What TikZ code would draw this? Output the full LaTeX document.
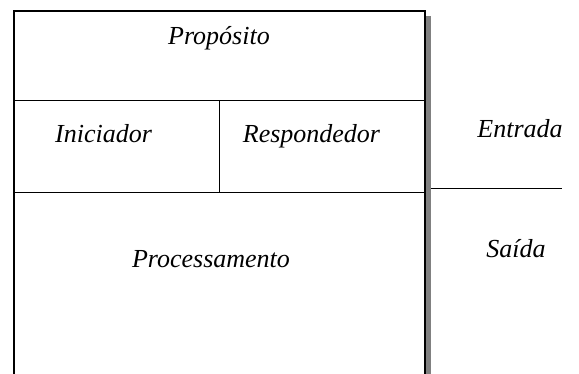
\documentclass[tikz,border=0pt]{standalone}
\usepackage{fontspec}
\setmainfont{Liberation Serif}
\usepackage{tikz}
\usepackage{xcolor}
\usetikzlibrary{positioning}

\begin{document}
\begin{tikzpicture}[
  x=1pt, y=-1pt,
  frame/.style={draw=black, line width=2pt},
  divider/.style={draw=black, line width=1.6pt},
  shade/.style={fill=black!50, draw=none},
  label/.style={font=\fontsize{26}{30}\selectfont\itshape, anchor=base, inner sep=0pt}
]
  \useasboundingbox (0,0) rectangle (579,373);

  %% ── Corners of the frame ──────────────────────────────────────────
  \coordinate (tl) at (14,10.5);
  \coordinate (tr) at (425,10.5);
  \coordinate (bl) at (14,385);
  \coordinate (br) at (425,385);

  %% ── Shadow on the right side ──────────────────────────────────────
  \fill[shade] (426,16) rectangle (431,385);

  %% ── Frame and dividers ────────────────────────────────────────────
  \draw[frame] (bl) -- (tl) -- (tr) -- (br);
  \draw[divider] (14,100.5) -- (425,100.5);
  \draw[divider] (14,192.5) -- (425,192.5);
  \draw[divider] (219.5,100.5) -- (219.5,192.5);
  \draw[divider] (431,188.5) -- (562,188.5);

  %% ── Labels ────────────────────────────────────────────────────────
  \node[label] (prop)  at (219,44)  {Propósito};
  \node[label] (ini)   at (103.5,142) {Iniciador};
  \node[label] (resp)  at (311.5,142) {Respondedor};
  \node[label] (proc)  at (211,267) {Processamento};
  \node[label] (ent)   at (520,137) {Entrada};
  \node[label] (sai)   at (516,257) {Saída};
\end{tikzpicture}
\end{document}
